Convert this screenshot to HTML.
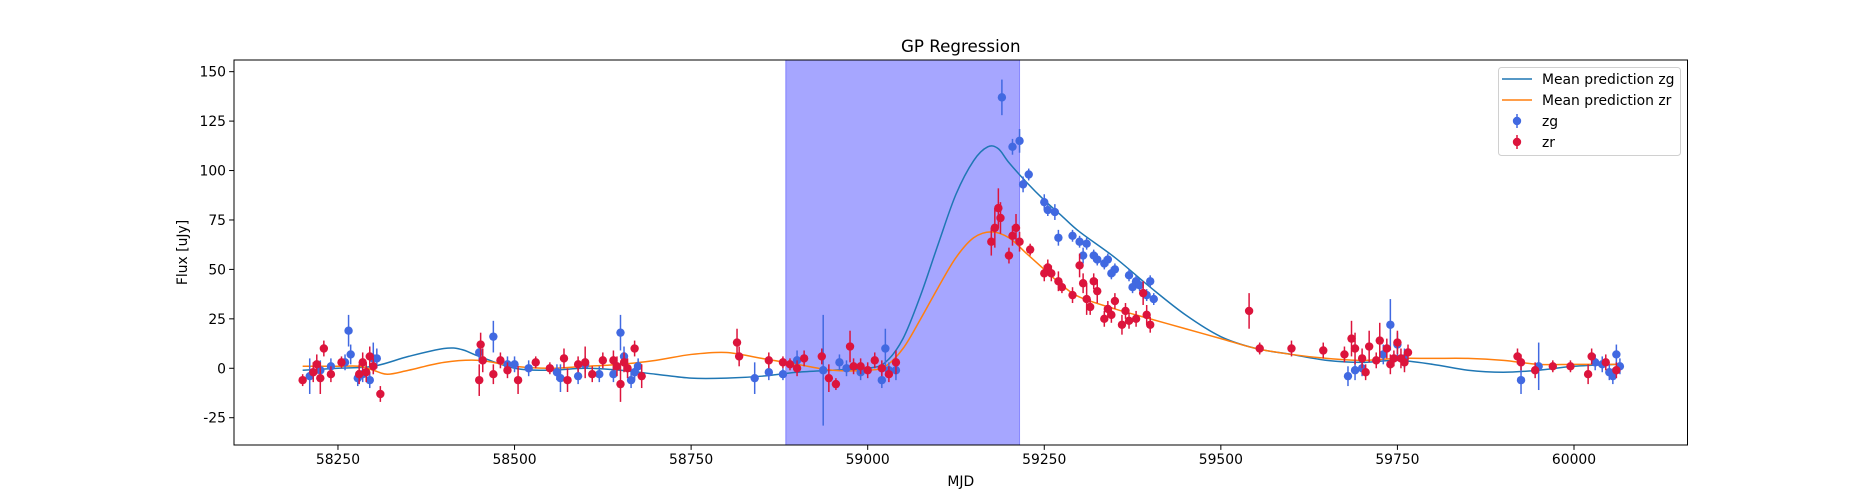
<!DOCTYPE html>
<html><head><meta charset="utf-8"><style>
html,body{margin:0;padding:0;background:#fff;}
svg{display:block;font-family:"DejaVu Sans","Liberation Sans",sans-serif;}
</style></head><body>
<svg id="chart" width="1875" height="500" viewBox="0 0 1875 500" xmlns="http://www.w3.org/2000/svg">
<rect width="1875" height="500" fill="#fff"/>
<g id="plot"></g>
</svg>
<script>
const xTicks=[58250,58500,58750,59000,59250,59500,59750,60000];
const yTicks=[-25,0,25,50,75,100,125,150];
const spanRange=[58884,59215];
const zgX=[58210,58225,58240,58260,58265,58268,58278,58285,58295,58300,58305,58450,58470,58490,58500,58520,58560,58565,58590,58600,58620,58640,58650,58655,58665,58670,58675,58840,58860,58880,58900,58937,58960,58970,58990,59020,59025,59030,59040,59190,59205,59215,59220,59228,59250,59255,59265,59270,59290,59300,59305,59310,59320,59325,59335,59340,59345,59350,59370,59375,59380,59385,59395,59400,59405,59680,59690,59700,59730,59740,59750,59760,59925,59950,60030,60040,60050,60055,60060,60065];
const zgY=[-4,-1,1,3,19,7,-5,-3,-6,5,5,8,16,2,2,0,-2,-5,-4,2,-3,-3,18,6,-6,-2,1,-5,-2,-3,4,-1,3,0,-2,-6,10,-1,-1,137,112,115,93,98,84,80,79,66,67,64,57,63,57,55,53,55,48,50,47,41,44,42,37,44,35,-4,-1,0,7,22,12,5,-6,1,3,2,-2,-4,7,1];
const zgE=[9,5,4,4,8,5,4,4,4,8,5,5,8,4,4,4,4,7,4,4,4,4,9,5,4,4,4,8,4,3,5,28,4,4,4,4,10,4,5,9,4,6,4,3,4,3,4,4,3,3,4,3,3,3,3,3,3,3,3,3,3,3,3,3,3,5,5,4,5,13,6,5,7,12,4,4,4,4,5,4];
const zrX=[58200,58215,58220,58225,58230,58240,58255,58280,58285,58290,58295,58300,58310,58450,58452,58455,58470,58480,58490,58505,58530,58550,58570,58575,58590,58600,58610,58625,58640,58645,58650,58655,58660,58670,58680,58815,58818,58860,58880,58890,58900,58910,58935,58945,58955,58975,58980,58990,59000,59010,59020,59030,59040,59175,59180,59185,59188,59200,59205,59210,59215,59230,59250,59255,59260,59270,59275,59290,59300,59305,59310,59315,59320,59325,59335,59340,59345,59350,59360,59365,59370,59380,59390,59395,59400,59540,59555,59600,59645,59675,59685,59690,59700,59705,59710,59720,59725,59735,59740,59745,59750,59755,59760,59765,59920,59925,59945,59970,59995,60020,60025,60045,60060];
const zrY=[-6,-2,2,-5,10,-3,3,-3,3,-2,6,1,-13,-6,12,4,-3,4,-1,-6,3,0,5,-6,2,3,-3,4,4,1,-8,3,0,10,-4,13,6,4,3,2,0,5,6,-5,-8,11,1,1,-1,4,0,-3,3,64,71,81,76,57,67,71,64,60,48,51,48,44,41,37,52,43,35,31,44,39,25,30,27,34,22,29,24,25,38,27,22,29,10,10,9,7,15,10,5,-2,11,4,14,10,2,5,13,5,3,8,6,3,-1,1,1,-3,6,3,-1];
const zrE=[3,5,5,8,4,4,3,5,5,5,5,4,4,8,6,6,5,4,4,7,3,3,5,6,4,8,4,4,5,5,9,5,5,4,6,7,5,4,3,3,4,4,4,7,3,8,4,4,4,4,4,4,6,7,10,10,8,4,5,7,5,3,4,4,4,5,3,4,6,5,8,4,4,6,4,4,4,4,5,4,4,4,6,5,4,9,3,4,4,4,9,8,5,4,8,4,9,5,5,4,6,5,5,4,4,4,4,3,3,5,4,4,4];
const zgMeanX=[58200,58250,58300,58350,58400,58425,58450,58500,58550,58600,58650,58700,58750,58800,58850,58900,58950,59000,59025,59050,59075,59100,59125,59150,59170,59185,59200,59225,59250,59275,59300,59350,59400,59450,59500,59550,59600,59650,59700,59750,59800,59850,59900,59950,60000,60060];
const zgMeanY=[-1,0,1,6,10,9.5,6,0,-1,0,-1,-3,-5,-5,-4,-2,-1,0,3,15,37,63,88,105,112,111,104,94,85,77,69,56,41,27,16,10,7,4,3,4,2,-1,-2,-1,1,2];
const zrMeanX=[58200,58250,58280,58300,58320,58350,58400,58450,58500,58550,58600,58650,58700,58750,58800,58850,58900,58950,59000,59025,59050,59075,59100,59125,59150,59175,59200,59225,59250,59275,59300,59350,59400,59450,59500,59550,59600,59650,59700,59750,59800,59850,59900,59950,60000,60060];
const zrMeanY=[1,1,1,-1,-3,-1,3,4,1,0,1,2,4,7,8,5,2,-1,-1,1,10,25,41,56,66,69,66,58,50,42,36,30,25,20,15,10,7,5,4,5,5,5,4,2,2,2];

const L=234,R=1687.5,T=60,B=445;
const xMin=58102.8,xMax=60160.7,yMin=-38.8,yMax=155.9;
const sx=v=>L+(v-xMin)/(xMax-xMin)*(R-L);
const sy=v=>B-(v-yMin)/(yMax-yMin)*(B-T);
const NS='http://www.w3.org/2000/svg';
const g=document.getElementById('plot');
function mk(tag,attrs,parent){const e=document.createElementNS(NS,tag);for(const k in attrs)e.setAttribute(k,attrs[k]);(parent||g).appendChild(e);return e;}

const clip=mk('clipPath',{id:'clip'});mk('rect',{x:L,y:T,width:R-L,height:B-T},clip);

const span=mk('rect',{x:sx(spanRange[0]),y:T,width:sx(spanRange[1])-sx(spanRange[0]),height:B-T,fill:'#0000ff','fill-opacity':0.35,stroke:'#0000ff','stroke-opacity':0.35});



function smoothPath(xs,ys){
  const P=xs.map((x,i)=>[sx(x),sy(ys[i])]);
  let d='M'+P[0][0]+','+P[0][1];
  for(let i=0;i<P.length-1;i++){
    const p0=P[Math.max(0,i-1)],p1=P[i],p2=P[i+1],p3=P[Math.min(P.length-1,i+2)];
    const c1=[p1[0]+(p2[0]-p0[0])/6,p1[1]+(p2[1]-p0[1])/6];
    const c2=[p2[0]-(p3[0]-p1[0])/6,p2[1]-(p3[1]-p1[1])/6];
    d+=` C${c1[0]},${c1[1]} ${c2[0]},${c2[1]} ${p2[0]},${p2[1]}`;
  }
  return d;
}
function line(xs,ys,color,name){
  const p=mk('path',{d:smoothPath(xs,ys),fill:'none',stroke:color,'stroke-width':1.5,'clip-path':'url(#clip)'});
  
  
}
function pts(xs,ys,es,color,name){
  const grp=mk('g',{});
  
  
  xs.forEach((x,i)=>{
    const l=mk('line',{x1:sx(x),x2:sx(x),y1:sy(ys[i]-es[i]),y2:sy(ys[i]+es[i]),stroke:color,'stroke-width':1.5},grp);
    
    
    const c=mk('circle',{cx:sx(x),cy:sy(ys[i]),r:4.2,fill:color},grp);
    
    
  });
}
line(zgMeanX,zgMeanY,'#1f77b4','mean-prediction-zg-line');
line(zrMeanX,zrMeanY,'#ff7f0e','mean-prediction-zr-line');
pts(zgX,zgY,zgE,'#4169e1','zg-series');
pts(zrX,zrY,zrE,'#dc143c','zr-series');

const frame=mk('rect',{x:L,y:T,width:R-L,height:B-T,fill:'none',stroke:'#000','stroke-width':1});



xTicks.forEach(v=>{
  const x=sx(v);
  mk('line',{x1:x,x2:x,y1:B,y2:B+4.9,stroke:'#000','stroke-width':1});
  const t=mk('text',{x:x,y:B+19,'font-size':13.9,'text-anchor':'middle',fill:'#000'});
  t.textContent=v;
  
  
});
yTicks.forEach(v=>{
  const y=sy(v);
  mk('line',{x1:L,x2:L-4.9,y1:y,y2:y,stroke:'#000','stroke-width':1});
  const t=mk('text',{x:L-8,y:y+5,'font-size':13.9,'text-anchor':'end',fill:'#000'});
  t.textContent=v;
  
  
});
const xt=mk('text',{x:(L+R)/2,y:486,'font-size':13.9,'text-anchor':'middle'});xt.textContent='MJD';


const yt=mk('text',{x:0,y:0,'font-size':13.9,'text-anchor':'middle',transform:`translate(187,${(T+B)/2}) rotate(-90)`});yt.textContent='Flux [uJy]';


const tt=mk('text',{x:(L+R)/2,y:52,'font-size':16.7,'text-anchor':'middle'});tt.textContent='GP Regression';



const lg=mk('g',{});


mk('rect',{x:1498.5,y:67.5,width:182,height:88,rx:3,fill:'#fff','fill-opacity':0.8,stroke:'#d0d0d0'},lg);
const entries=[['line','#1f77b4','Mean prediction zg'],['line','#ff7f0e','Mean prediction zr'],['pt','#4169e1','zg'],['pt','#dc143c','zr']];
entries.forEach((e,i)=>{
  const y=79+i*21;
  const eg=mk('g',{},lg);
  
  
  if(e[0]==='line'){mk('line',{x1:1502,x2:1532,y1:y,y2:y,stroke:e[1],'stroke-width':1.5},eg);}
  else{mk('line',{x1:1517,x2:1517,y1:y-7,y2:y+7,stroke:e[1],'stroke-width':1.5},eg);mk('circle',{cx:1517,cy:y,r:4.2,fill:e[1]},eg);}
  const t=mk('text',{x:1542,y:y+5,'font-size':13.9},eg);t.textContent=e[2];
});
</script>
</body></html>
